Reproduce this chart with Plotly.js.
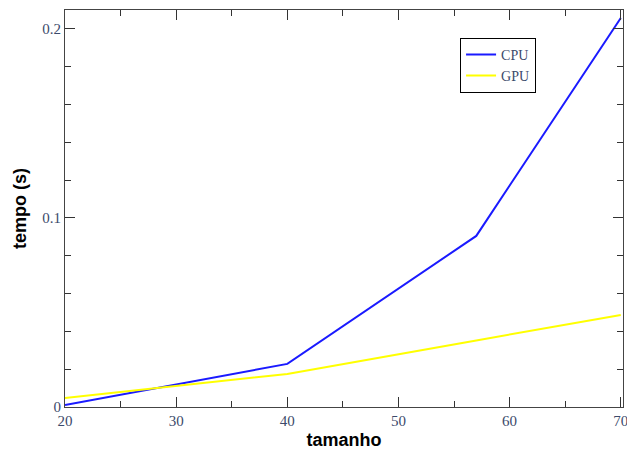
<!DOCTYPE html>
<html>
<head>
<meta charset="utf-8">
<script src="https://cdn.plot.ly/plotly-3.0.1.min.js"></script>
<style>html,body{margin:0;padding:0;background:#fff;}#chart{width:627px;height:450px;}</style>
</head>
<body>
<div id="chart"></div>
<script>
var tamanho = [20, 40, 57, 70];
var cpu = [0.001, 0.0228, 0.0905, 0.2058];
var gpu = [0.0048, 0.0175, 0.0352, 0.0487];
var seriesNames = ['CPU', 'GPU'];

var traces = [
  {x: tamanho, y: cpu, name: seriesNames[0], mode: 'lines', line: {color: '#1a1aff', width: 2}},
  {x: tamanho, y: gpu, name: seriesNames[1], mode: 'lines', line: {color: '#ffff00', width: 2}}
];

var tickFont = {family: 'Liberation Serif, Times New Roman, serif', size: 15, color: '#3b4a6b'};
var titleFont = {family: 'Liberation Sans, Arial, sans-serif', size: 18, color: '#000', weight: 'bold'};

var layout = {
  width: 627, height: 450,
  margin: {l: 65, r: 4, t: 10, b: 43},
  paper_bgcolor: '#fff', plot_bgcolor: '#fff',
  showlegend: true,
  legend: {x: 0.708, y: 0.93, xanchor: 'left', yanchor: 'top', bordercolor: '#000', borderwidth: 1,
           bgcolor: '#fff', font: {family: 'Liberation Serif, Times New Roman, serif', size: 14, color: '#3b4a6b'},
           tracegroupgap: 0, itemwidth: 30},
  xaxis: {
    range: [20, 70.2], dtick: 10, tick0: 20, ticks: 'inside', ticklen: 10, tickcolor: '#333', tickwidth: 1,
    showline: true, linecolor: '#444', linewidth: 1, mirror: 'allticks', showgrid: false, zeroline: false,
    tickfont: tickFont, ticklabeloverflow: 'allow',
    minor: {dtick: 5, ticks: 'inside', ticklen: 6, tickcolor: '#333', showgrid: false},
    title: {text: 'tamanho', font: titleFont, standoff: 6}
  },
  yaxis: {
    range: [0, 0.21], dtick: 0.1, tick0: 0, ticks: 'inside', ticklen: 10, tickcolor: '#333', tickwidth: 1,
    showline: true, linecolor: '#444', linewidth: 1, mirror: 'allticks', showgrid: false, zeroline: false,
    tickfont: tickFont,
    minor: {dtick: 0.02, ticks: 'inside', ticklen: 6, tickcolor: '#333', showgrid: false},
    title: {text: 'tempo (s)', font: titleFont, standoff: 10}
  }
};

Plotly.newPlot('chart', traces, layout, {displayModeBar: false, staticPlot: true});
</script>
</body>
</html>
